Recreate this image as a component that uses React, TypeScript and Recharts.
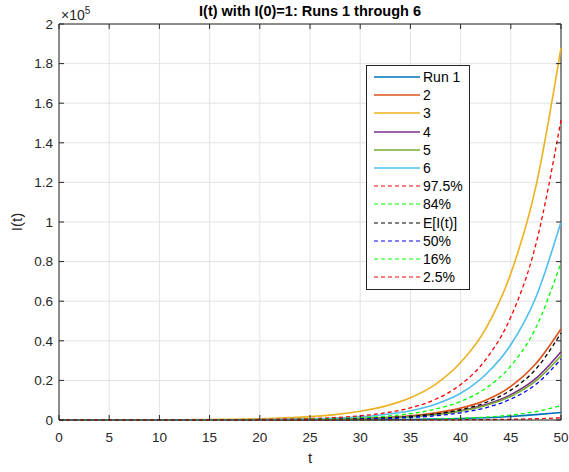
import {
  LineChart,
  Line,
  XAxis,
  YAxis,
  CartesianGrid,
  ReferenceLine,
} from "recharts";

// time grid (t) used for every series
const tValues = [
  0, 2.5, 5, 7.5, 10, 12.5, 15, 17.5, 20, 22.5, 25, 27.5, 30, 32.5, 35, 37.5,
  40, 42.5, 45, 47.5, 50,
];

// simulated runs
const run1 = [
  1, 1, 1, 2, 3, 4, 6, 10, 16, 26, 42, 68, 110, 175, 280, 450, 720, 1150,
  1800, 2700, 3800,
];
const run2 = [
  1, 2, 4, 7, 12, 21, 36, 60, 100, 170, 280, 470, 780, 1300, 2150, 3600, 6000,
  10000, 17000, 28500, 46000,
];
const run3 = [
  1, 6, 19, 42, 80, 140, 240, 400, 650, 1050, 1700, 2700, 4400, 7000, 11200,
  18000, 29000, 46000, 74000, 118000, 188000,
];
const run4 = [
  1, 2, 4, 6, 11, 19, 31, 52, 86, 142, 235, 390, 640, 1050, 1730, 2850, 4700,
  7800, 12800, 21000, 34500,
];
const run5 = [
  1, 2, 3, 6, 10, 17, 28, 47, 78, 130, 215, 360, 590, 970, 1600, 2650, 4400,
  7300, 12000, 19800, 32500,
];
const run6 = [
  1, 3, 7, 13, 24, 40, 70, 118, 200, 340, 580, 980, 1650, 2800, 4700, 8000,
  13500, 23000, 38000, 62000, 100000,
];

// statistics
const q975 = [
  1, 6, 10, 17, 29, 50, 85, 145, 248, 424, 723, 1234, 2105, 3590, 6130, 10470,
  17860, 30500, 52000, 88800, 151500,
];
const q84 = [
  1, 3, 5, 9, 15, 26, 45, 76, 130, 222, 379, 647, 1105, 1885, 3220, 5490,
  9370, 16000, 27300, 46600, 79500,
];
const meanI = [
  1, 1.7, 2.9, 5, 8.5, 14.5, 24.7, 42.2, 72, 123, 210, 358, 610, 1042, 1778,
  3034, 5178, 8836, 15080, 25736, 43914,
];
const q50 = [
  1, 1.2, 2, 3.5, 5.9, 10.1, 17.3, 29.5, 50.4, 86, 147, 250, 427, 729, 1244,
  2124, 3625, 6185, 10556, 18015, 30740,
];
const q16 = [
  1, 0.3, 0.5, 0.8, 1.4, 2.4, 4, 7, 12, 20, 35, 59, 101, 172, 293, 500, 854,
  1460, 2490, 4250, 7250,
];
const q025 = [
  1, 0.1, 0.1, 0.1, 0.2, 0.4, 0.6, 1, 1.8, 3, 5, 9, 15, 26, 44, 76, 129, 221,
  377, 643, 1100,
];

const yTicks = [
  0, 20000, 40000, 60000, 80000, 100000, 120000, 140000, 160000, 180000,
  200000,
];
const xTicks = [0, 5, 10, 15, 20, 25, 30, 35, 40, 45, 50];

const series = [
  { key: "r1", name: "Run 1", values: run1, color: "#0072BD", dashed: false },
  { key: "r2", name: "2", values: run2, color: "#D95319", dashed: false },
  { key: "r3", name: "3", values: run3, color: "#EDB120", dashed: false },
  { key: "r4", name: "4", values: run4, color: "#7E2F8E", dashed: false },
  { key: "r5", name: "5", values: run5, color: "#77AC30", dashed: false },
  { key: "r6", name: "6", values: run6, color: "#4DBEEE", dashed: false },
  { key: "p975", name: "97.5%", values: q975, color: "#FF0000", dashed: true },
  { key: "p84", name: "84%", values: q84, color: "#00FF00", dashed: true },
  { key: "mean", name: "E[I(t)]", values: meanI, color: "#000000", dashed: true },
  { key: "p50", name: "50%", values: q50, color: "#0000FF", dashed: true },
  { key: "p16", name: "16%", values: q16, color: "#00FF00", dashed: true },
  { key: "p025", name: "2.5%", values: q025, color: "#FF0000", dashed: true },
];

const data = tValues.map((t, i) => {
  const row: Record<string, number> = { t };
  series.forEach((s) => {
    row[s.key] = s.values[i];
  });
  return row;
});

const W = 569;
const H = 472;
const M = { top: 24, right: 8, bottom: 0, left: 0 };
const Y_W = 59;
const X_H = 52;
const PLOT_W = W - M.left - M.right - Y_W;
const PLOT_H = H - M.top - M.bottom - X_H;
const AXIS = "#262626";
const FONT = '"Liberation Sans", Arial, Helvetica, sans-serif';
const TICK_GAP = 6;
const DASH = "4 3";

const YTick = (props: any) => {
  const { x, y, payload } = props;
  const ax = x + TICK_GAP;
  return (
    <g>
      <line x1={ax} x2={ax + 5} y1={y} y2={y} stroke={AXIS} />
      <line x1={ax + PLOT_W - 5} x2={ax + PLOT_W} y1={y} y2={y} stroke={AXIS} />
      <text
        x={x}
        y={y}
        dy="0.36em"
        textAnchor="end"
        fill={AXIS}
        fontSize={13.5}
        fontFamily={FONT}
      >
        {String(+(payload.value / 1e5).toFixed(1))}
      </text>
    </g>
  );
};

const XTick = (props: any) => {
  const { x, y, payload } = props;
  const ay = y - TICK_GAP;
  return (
    <g>
      <line x1={x} x2={x} y1={ay} y2={ay - 5} stroke={AXIS} />
      <line x1={x} x2={x} y1={ay - PLOT_H} y2={ay - PLOT_H + 5} stroke={AXIS} />
      <text
        x={x}
        y={y + 16}
        textAnchor="middle"
        fill={AXIS}
        fontSize={13.5}
        fontFamily={FONT}
      >
        {payload.value}
      </text>
    </g>
  );
};

const LegendBox = () => (
  <div
    style={{
      position: "absolute",
      left: 366,
      top: 65,
      border: `1px solid ${AXIS}`,
      background: "#fff",
      padding: "2px 6px 3px 7px",
      fontFamily: FONT,
      fontSize: 14,
      color: "#000",
    }}
  >
    {series.map((s) => (
      <div
        key={s.key}
        style={{ display: "flex", alignItems: "center", height: 18.2 }}
      >
        <svg width={46} height={4} style={{ display: "block" }}>
          <line
            x1={0}
            x2={46}
            y1={2}
            y2={2}
            stroke={s.color}
            strokeWidth={s.dashed ? 1.2 : 1.6}
            strokeDasharray={s.dashed ? DASH : undefined}
          />
        </svg>
        <span style={{ marginLeft: 3, lineHeight: "18px" }}>{s.name}</span>
      </div>
    ))}
  </div>
);

export default function App() {
  return (
    <div
      style={{
        position: "absolute",
        left: 0,
        top: 0,
        width: W,
        height: H,
        background: "#fff",
        fontFamily: FONT,
      }}
    >
      <div
        style={{
          position: "absolute",
          left: Y_W,
          width: PLOT_W,
          top: 3,
          textAlign: "center",
          fontWeight: "bold",
          fontSize: 14.5,
          color: "#000",
        }}
      >
        I(t) with I(0)=1: Runs 1 through 6
      </div>
      <div
        style={{
          position: "absolute",
          left: 61,
          top: 5,
          fontSize: 14,
          color: AXIS,
        }}
      >
        ×10<sup style={{ fontSize: 10, verticalAlign: "6px" }}>5</sup>
      </div>
      <LineChart width={W} height={H} data={data} margin={M}>
        <CartesianGrid stroke="#e3e3e3" strokeWidth={1} />
        <XAxis
          dataKey="t"
          type="number"
          domain={[0, 50]}
          ticks={xTicks}
          interval={0}
          height={X_H}
          tickSize={0}
          tickMargin={TICK_GAP}
          tick={<XTick />}
          axisLine={{ stroke: AXIS }}
          label={{
            value: "t",
            position: "insideBottom",
            offset: 9,
            fill: AXIS,
            fontSize: 15,
            fontFamily: FONT,
          }}
        />
        <YAxis
          type="number"
          domain={[0, 200000]}
          ticks={yTicks}
          interval={0}
          width={Y_W}
          tickSize={0}
          tickMargin={TICK_GAP}
          tick={<YTick />}
          axisLine={{ stroke: AXIS }}
          label={{
            value: "I(t)",
            angle: -90,
            position: "insideLeft",
            offset: 17,
            fill: AXIS,
            fontSize: 15,
            fontFamily: FONT,
            style: { textAnchor: "middle" },
          }}
        />
        <ReferenceLine y={200000} stroke={AXIS} />
        <ReferenceLine x={50} stroke={AXIS} />
        {series.map((s) => (
          <Line
            key={s.key}
            type="monotone"
            dataKey={s.key}
            name={s.name}
            stroke={s.color}
            strokeWidth={s.dashed ? 1.3 : 1.6}
            strokeDasharray={s.dashed ? DASH : undefined}
            dot={false}
            activeDot={false}
            isAnimationActive={false}
          />
        ))}
      </LineChart>
      <LegendBox />
    </div>
  );
}
